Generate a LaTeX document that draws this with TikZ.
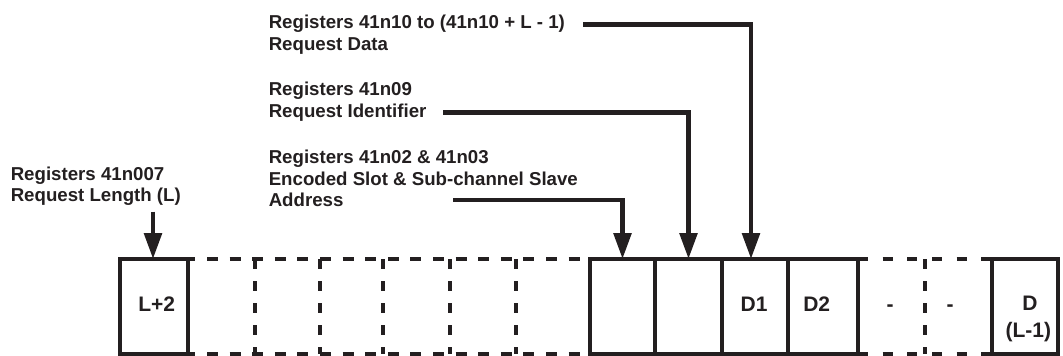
\documentclass[tikz,border=0pt]{standalone}
\usepackage{fontspec}
\setmainfont{Liberation Sans}
\usetikzlibrary{arrows.meta,fit}
\definecolor{ink}{RGB}{35,31,32}
\begin{document}
\begin{tikzpicture}[x=0.75pt,y=-0.75pt,
  lbl/.style={anchor=base west,inner sep=0pt,font=\fontsize{14}{16}\selectfont\bfseries,text=ink},
  celltext/.style={anchor=base,inner sep=0pt,font=\fontsize{15.75}{18}\selectfont\bfseries,text=ink},
  cellbox/.style={inner sep=0pt,outer sep=0pt,draw=none},
  frame/.style={draw=ink,line width=3.4pt},
  hdasha/.style={draw=ink,line width=3.4pt,dash pattern=on 8.25pt off 8.7pt,dash phase=2.7pt},
  hdashb/.style={draw=ink,line width=3.4pt,dash pattern=on 7.5pt off 11pt},
  vdash/.style={draw=ink,line width=3.4pt,dash pattern=on 7.5pt off 9pt},
  conn/.style={draw=ink,line width=3.5pt,-{Triangle[length=19.5pt,width=13pt]}}
]
\useasboundingbox (0,0) rectangle (1063,355);
% cells
\foreach \n/\a/\b in {1/120/188,2/188/255,3/255/320,4/320/383,5/383/450,6/450/516,7/516/590,8/590/655,9/655/722,10/722/788,11/788/858,12/858/925,13/925/992,14/992/1058}
  \node[cellbox,fit={(\a,259) (\b,354)}] (c\n) {};
% dashed runs
\draw[hdasha] (c2.north west) -- (c7.north east);
\draw[hdasha] (c2.south west) -- (c7.south east);
\foreach \n in {2,...,6} \draw[vdash] (c\n.north east) -- (c\n.south east);
\draw[vdash] (c12.north east) -- (c12.south east);
\draw[hdashb] (c12.north west) -- (c13.north east);
\draw[hdashb] (c12.south west) -- (c13.south east);
% solid boxes
\draw[frame] (c1.north west) rectangle (c1.south east);
\draw[frame] (c8.north west) rectangle (c11.south east);
\foreach \n in {8,9,10} \draw[frame] (c\n.north east) -- (c\n.south east);
\draw[frame] (c14.north west) rectangle (c14.south east);
% cell texts
\node[celltext] (tl2) at (156.7,311.7) {L+2};
\node[celltext] (td1) at (754,311.7) {D1};
\node[celltext] (td2) at (816.7,311.7) {D2};
\node[celltext] (th1) at (890,311.7) {-};
\node[celltext] (th2) at (950,311.7) {-};
\node[celltext] (tda) at (1030,310) {D};
\node[celltext] (tdb) at (1028.3,337.5) {(L-1)};
% labels
\node[lbl] (a1) at (268.5,28.5) {Registers 41n10 to (41n10 + L - 1)};
\node[lbl] (a2) at (268.5,50.7) {Request Data};
\node[lbl] (b1) at (268.5,95.7) {Registers 41n09};
\node[lbl] (b2) at (268.5,117.3) {Request Identifier};
\node[lbl] (e1) at (268.5,163.3) {Registers 41n02 \& 41n03};
\node[lbl] (e2) at (268.5,185) {Encoded Slot \& Sub-channel Slave};
\node[lbl] (e3) at (268.5,206.7) {Address};
\node[lbl] (r1) at (10.5,180) {Registers 41n007};
\node[lbl] (r2) at (10.5,201) {Request Length (L)};
% connectors
\coordinate (sa) at (583,24.2);
\coordinate (sb) at (443,112.5);
\coordinate (se) at (453,200);
\coordinate (sr) at (153,211.7);
\draw[conn] (sa) -| ([xshift=-3pt]c10.north);
\draw[conn] (sb) -| (c9.north);
\draw[conn] (se) -| (c8.north);
\draw[conn] (sr) -- (sr |- c1.north);
\end{tikzpicture}
\end{document}
